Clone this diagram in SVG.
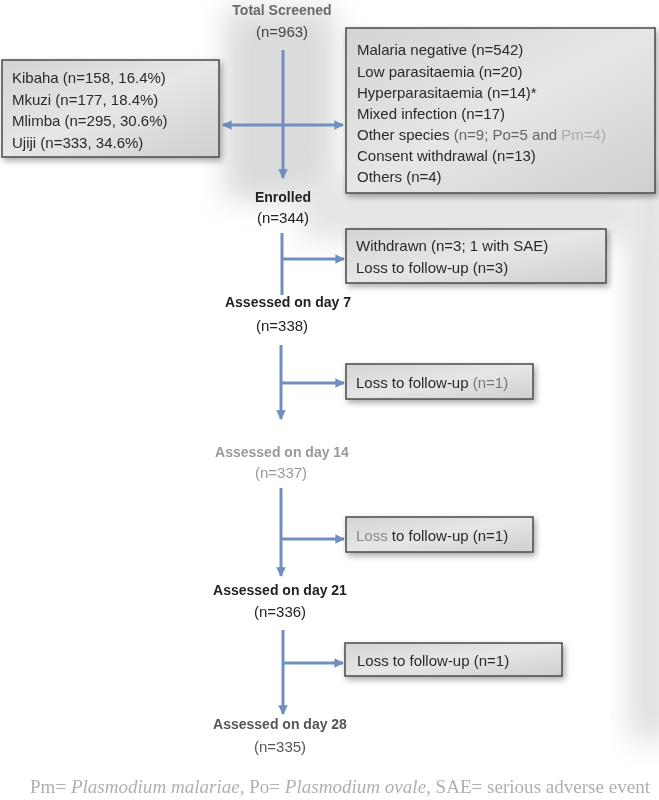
<svg xmlns="http://www.w3.org/2000/svg" width="659" height="800" viewBox="0 0 659 800">
<defs>
<style>
.t{font-family:"Liberation Sans",Arial,sans-serif;font-size:15px;fill:#2a2a2a}
.b{font-family:"Liberation Sans",Arial,sans-serif;font-size:14px;font-weight:bold;fill:#222;text-anchor:middle}
.n{font-family:"Liberation Sans",Arial,sans-serif;font-size:15px;fill:#222;text-anchor:middle}
.box{fill:url(#g);stroke:#4a4a4a;stroke-width:1.5;filter:url(#sh)}
.ln{stroke:#6f8fbf;stroke-width:3;fill:none}
</style>
<linearGradient id="g" x1="0" y1="0" x2="1" y2="1">
<stop offset="0" stop-color="#d4d4d4"/><stop offset="0.5" stop-color="#e6e6e6"/><stop offset="1" stop-color="#cfcfcf"/>
</linearGradient>
<filter id="sh" x="-10%" y="-20%" width="120%" height="150%"><feDropShadow dx="2" dy="3" stdDeviation="3" flood-color="#000" flood-opacity="0.35"/></filter>
<filter id="bl" x="-50%" y="-50%" width="200%" height="200%"><feGaussianBlur stdDeviation="14"/></filter>
<marker id="ah" viewBox="0 0 10 10" refX="9" refY="5" markerWidth="3.2" markerHeight="3.2" orient="auto-start-reverse"><path d="M0,0 L10,5 L0,10 z" fill="#6f8fbf"/></marker>
</defs>
<rect width="659" height="800" fill="#fff"/>
<g id="bg" opacity="0.55">
<rect x="225" y="10" width="110" height="190" fill="#bdbdbd" filter="url(#bl)"/>
<rect x="630" y="180" width="40" height="560" fill="#c4c4c4" filter="url(#bl)"/>
<rect x="300" y="180" width="340" height="60" fill="#d0d0d0" filter="url(#bl)"/>
</g>
<g id="connectors">
<line class="ln" x1="283" y1="50" x2="283" y2="178" marker-end="url(#ah)"/>
<line class="ln" x1="223" y1="125" x2="343" y2="125" marker-start="url(#ah)" marker-end="url(#ah)"/>
<line class="ln" x1="282" y1="233" x2="282" y2="295"/>
<line class="ln" x1="282" y1="259" x2="344" y2="259" marker-end="url(#ah)"/>
<line class="ln" x1="281" y1="345" x2="281" y2="419" marker-end="url(#ah)"/>
<line class="ln" x1="281" y1="383" x2="344" y2="383" marker-end="url(#ah)"/>
<line class="ln" x1="281" y1="488" x2="281" y2="576" marker-end="url(#ah)"/>
<line class="ln" x1="281" y1="539" x2="344" y2="539" marker-end="url(#ah)"/>
<line class="ln" x1="283" y1="630" x2="283" y2="714" marker-end="url(#ah)"/>
<line class="ln" x1="283" y1="663" x2="343" y2="663" marker-end="url(#ah)"/>
</g>
<g id="total">
<text class="b" x="282" y="15" style="fill:#6a6a6a;font-size:14px">Total Screened</text>
<text class="n" x="282" y="37" style="fill:#444">(n=963)</text>
</g>
<g id="sites">
<rect class="box" x="2" y="60" width="217" height="97"/>
<text class="t" x="12" y="83">Kibaha (n=158, 16.4%)</text>
<text class="t" x="12" y="105">Mkuzi  (n=177, 18.4%)</text>
<text class="t" x="12" y="126">Mlimba (n=295, 30.6%)</text>
<text class="t" x="12" y="148">Ujiji (n=333, 34.6%)</text>
</g>
<g id="excluded">
<rect class="box" x="346" y="28" width="309" height="165"/>
<text class="t" x="357" y="55">Malaria negative (n=542)</text>
<text class="t" x="357" y="77">Low parasitaemia (n=20)</text>
<text class="t" x="357" y="98">Hyperparasitaemia (n=14)*</text>
<text class="t" x="357" y="119">Mixed infection (n=17)</text>
<text class="t" x="357" y="140">Other species <tspan fill="#666">(n=9; Po=5 and </tspan><tspan fill="#aaa">Pm=4)</tspan></text>
<text class="t" x="357" y="161">Consent withdrawal (n=13)</text>
<text class="t" x="357" y="182">Others (n=4)</text>
</g>
<g id="enrolled">
<text class="b" x="283" y="202">Enrolled</text>
<text class="n" x="283" y="223">(n=344)</text>
</g>
<g id="withdrawn">
<rect class="box" x="346" y="229" width="260" height="54"/>
<text class="t" x="356" y="251">Withdrawn (n=3; 1 with SAE)</text>
<text class="t" x="356" y="273">Loss to follow-up (n=3)</text>
</g>
<g id="day7">
<text class="b" x="288" y="307">Assessed on day 7</text>
<text class="n" x="282" y="331">(n=338)</text>
</g>
<g id="ltfu1">
<rect class="box" x="346" y="364" width="187" height="35"/>
<text class="t" x="356" y="388">Loss to follow-up <tspan fill="#777">(n=1)</tspan></text>
</g>
<g id="day14">
<text class="b" x="282" y="457" style="fill:#999">Assessed on day 14</text>
<text class="n" x="281" y="478" style="fill:#999">(n=337)</text>
</g>
<g id="ltfu2">
<rect class="box" x="346" y="517" width="187" height="35"/>
<text class="t" x="356" y="541"><tspan fill="#888">Loss</tspan> to follow-up (n=1)</text>
</g>
<g id="day21">
<text class="b" x="280" y="595">Assessed on day 21</text>
<text class="n" x="280" y="617">(n=336)</text>
</g>
<g id="ltfu3">
<rect class="box" x="345" y="643" width="217" height="33"/>
<text class="t" x="357" y="666">Loss to follow-up (n=1)</text>
</g>
<g id="day28">
<text class="b" x="280" y="729" style="fill:#555">Assessed on day 28</text>
<text class="n" x="280" y="752" style="fill:#555">(n=335)</text>
</g>
<g id="footnote">
<text x="30" y="793" textLength="620" lengthAdjust="spacingAndGlyphs" style="font-family:'Liberation Serif','Times New Roman',serif;font-size:18px;fill:#b0b0b0">Pm= <tspan font-style="italic">Plasmodium malariae</tspan>, Po= <tspan font-style="italic">Plasmodium ovale</tspan>, SAE= serious adverse event</text>
</g>
</svg>
